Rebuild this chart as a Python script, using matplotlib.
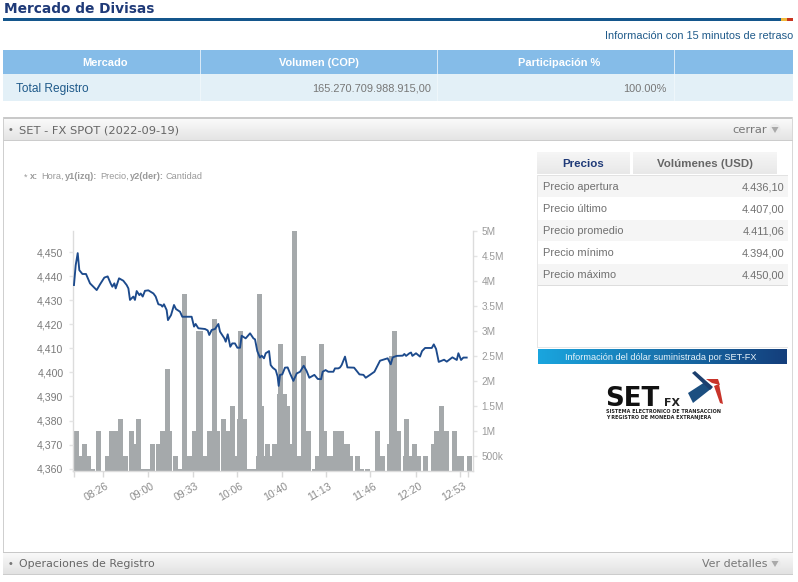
import matplotlib
matplotlib.use("Agg")
import matplotlib.pyplot as plt
from matplotlib.patches import Rectangle, Polygon, Circle
from matplotlib.transforms import ScaledTranslation
from matplotlib.ticker import FuncFormatter
import numpy as np

# price line: minutes since midnight / price
price_minutes = [484.3, 485.6, 487.1, 488.3, 490.6, 493.3, 496.3, 498.8, 501.3, 503.8, 507.0, 509.5, 511.7, 513.0,
                 514.5, 515.5, 518.0, 521.2, 523.7, 525.0, 526.2, 528.7, 529.9, 531.2, 533.2, 534.2, 535.7, 537.4,
                 539.9, 543.7, 545.4, 547.4, 549.4, 550.4, 551.6, 553.6, 554.6, 556.9, 559.1, 560.6, 563.6, 565.3,
                 572.3, 574.1, 575.3, 577.3, 582.3, 584.3, 585.5, 587.3, 589.8, 592.3, 593.5, 596.8, 597.8, 599.3,
                 601.2, 602.7, 604.7, 606.5, 608.5, 609.7, 612.7, 616.0, 618.5, 619.7, 621.4, 623.4, 624.7, 626.4,
                 627.7, 630.2, 631.4, 632.9, 635.2, 636.6, 637.4, 638.4, 640.1, 642.1, 644.1, 645.9, 648.4, 650.9,
                 653.4, 656.1, 658.3, 660.3, 664.1, 666.6, 669.1, 670.3, 672.5, 674.5, 678.3, 679.5, 682.0, 683.3,
                 684.5, 687.0, 688.8, 693.8, 697.8, 700.8, 702.5, 705.7, 709.0, 713.2, 718.9, 721.2, 722.7, 725.7,
                 730.2, 731.4, 732.7, 735.2, 736.4, 737.4, 740.1, 743.1, 744.6, 746.9, 751.9, 753.4, 755.1, 757.1,
                 759.3, 761.1, 763.1, 767.3, 770.6, 771.8, 773.8, 775.5, 778.0]
prices = [4436.4, 4444.7, 4449.7, 4442.6, 4441.0, 4441.0, 4437.1, 4435.7, 4434.3, 4436.7, 4439.5, 4440.0, 4437.1, 4435.7,
          4437.1, 4435.0, 4439.2, 4438.2, 4436.4, 4435.0, 4430.2, 4431.6, 4430.2, 4433.9, 4432.2, 4432.9, 4431.6, 4434.0,
          4434.2, 4432.9, 4431.6, 4428.4, 4428.1, 4427.4, 4428.4, 4426.0, 4421.8, 4423.9, 4428.1, 4426.4, 4425.3, 4423.2,
          4423.2, 4419.1, 4420.2, 4418.4, 4418.1, 4417.5, 4415.6, 4417.7, 4418.1, 4420.2, 4417.0, 4414.2, 4412.8, 4415.9,
          4410.7, 4412.1, 4412.1, 4410.3, 4410.3, 4415.3, 4414.2, 4416.3, 4414.2, 4413.8, 4408.9, 4406.2, 4407.0, 4405.9,
          4408.0, 4408.9, 4403.1, 4402.0, 4401.0, 4398.3, 4394.4, 4399.0, 4399.2, 4402.0, 4402.1, 4399.6, 4396.5, 4399.6,
          4400.3, 4402.8, 4400.6, 4397.8, 4399.0, 4397.3, 4397.2, 4400.3, 4401.0, 4400.3, 4400.3, 4401.7, 4401.7, 4402.1,
          4403.1, 4406.6, 4402.1, 4402.0, 4399.2, 4399.0, 4397.8, 4399.0, 4400.3, 4404.9, 4405.9, 4403.4, 4406.3, 4406.9,
          4407.0, 4407.7, 4406.9, 4408.0, 4408.3, 4406.9, 4408.0, 4406.6, 4408.9, 4410.2, 4410.2, 4411.7, 4409.8, 4404.4,
          4404.9, 4405.3, 4404.5, 4406.3, 4405.2, 4408.0, 4405.2, 4406.2, 4406.2]

# volume bars: minutes since midnight / quantity in millions
bar_minutes = [486.2, 489.3, 492.3, 495.3, 498.3, 503.0, 509.3, 512.5, 515.7, 519.2, 523.0, 527.2, 528.7, 532.2,
               535.9, 539.2, 542.9, 547.4, 550.4, 554.1, 556.1, 559.9, 563.6, 567.1, 570.6, 574.6, 577.2, 579.1,
               582.5, 586.0, 589.2, 591.5, 596.0, 599.5, 603.2, 604.7, 608.1, 609.1, 612.1, 615.8, 618.7, 622.3,
               623.1, 624.3, 625.3, 629.0, 631.7, 634.3, 638.0, 639.1, 641.6, 644.0, 646.6, 649.1, 652.6, 656.2,
               660.0, 664.1, 666.4, 669.1, 671.3, 675.7, 676.8, 680.1, 682.0, 684.1, 687.9, 688.9, 691.4, 696.0,
               699.6, 703.9, 711.5, 715.0, 720.2, 722.1, 723.9, 727.1, 732.3, 733.0, 736.1, 739.3, 742.0, 747.1,
               753.2, 755.5, 759.2, 763.0, 769.2, 772.9, 774.3, 780.2]
bar_volumes = [1.0, 0.5, 0.75, 0.5, 0.25, 1.0, 0.5, 1.0, 1.0, 1.25, 0.5, 1.0, 0.75, 1.25,
               0.25, 0.25, 0.75, 0.75, 1.0, 2.25, 1.0, 0.5, 0.25, 3.75, 0.5, 1.0, 3.0, 3.0,
               0.5, 1.0, 3.25, 1.0, 1.25, 1.0, 1.5, 0.5, 1.25, 3.0, 1.25, 0.25, 0.25, 0.5,
               3.75, 1.5, 0.5, 0.75, 0.5, 0.75, 1.75, 2.75, 1.75, 1.5, 0.75, 5.0, 0.5, 2.5,
               1.0, 0.25, 0.5, 2.75, 1.0, 0.5, 0.5, 1.0, 1.0, 1.0, 0.75, 0.75, 0.5, 0.5,
               0.25, 0.25, 1.0, 0.5, 0.75, 2.5, 3.0, 1.0, 0.5, 1.25, 0.5, 0.75, 0.5, 0.5,
               0.75, 1.0, 1.5, 1.0, 1.0, 0.5, 0.5, 0.5]

x_tick_minutes = [506, 540, 573, 606, 640, 673, 706, 740, 773]
x_tick_labels = ["08:26", "09:00", "09:33", "10:06", "10:40", "11:13", "11:46", "12:20", "12:53"]
x_end_ticks = [484.3, 778.8]
price_ticks = [4360, 4370, 4380, 4390, 4400, 4410, 4420, 4430, 4440, 4450]
volume_ticks = [0.5, 1, 1.5, 2, 2.5, 3, 3.5, 4, 4.5, 5]
volume_labels = ["500k", "1M", "1.5M", "2M", "2.5M", "3M", "3.5M", "4M", "4.5M", "5M"]

table_headers = ["Mercado", "Volumen (COP)", "Participación %"]
stat_names = ["Precio apertura", "Precio último", "Precio promedio", "Precio mínimo", "Precio máximo"]
stat_values = ["4.436,10", "4.407,00", "4.411,06", "4.394,00", "4.450,00"]

W, H = 798, 582
SANS = "Liberation Sans"
WIDE = "DejaVu Sans"


def pt(px):
    return px * 0.72


fig = plt.figure(figsize=(W / 100, H / 100), dpi=100)
page = fig.add_axes([0, 0, 1, 1])
page.set_xlim(0, W)
page.set_ylim(H, 0)
page.axis("off")


def box(x0, y0, x1, y1, color, z=1):
    page.add_patch(Rectangle((x0, y0), x1 - x0, y1 - y0, fc=color, ec="none", zorder=z))


def grad(x0, y0, x1, y1, c0, c1, horizontal=False):
    a = np.array(matplotlib.colors.to_rgb(c0))
    b = np.array(matplotlib.colors.to_rgb(c1))
    t = np.linspace(0, 1, 64)[:, None]
    img = a + (b - a) * t
    img = img[None, :, :] if horizontal else img[:, None, :]
    page.imshow(img, extent=(x0, x1, y1, y0), aspect="auto", zorder=2, interpolation="bilinear")


# y is the middle of the capitals, so mixed pieces of a line share one baseline
def label(x, y, s, size, color, ha="left", weight="normal", family=SANS):
    page.text(x, y + size * 0.36, s, fontsize=pt(size), color=color, ha=ha, va="baseline", weight=weight,
              family=family, zorder=5)


def arrow_icon(x, y):
    page.add_patch(Circle((x, y), 5.5, fc="#e9e9e9", ec="none", zorder=4))
    page.add_patch(Polygon([(x - 3.5, y - 2.5), (x + 3.5, y - 2.5), (x, y + 3.5)], fc="#a9a9a9", ec="none", zorder=5))


# page heading
label(4, 8.5, "Mercado de Divisas", 13.8, "#1f3a78", weight="bold", family=WIDE)
box(3, 18, 793, 20.5, "#14568c")
box(781, 18, 787, 20.5, "#f0b93a", z=2)
box(787, 18, 793, 20.5, "#c8341f", z=2)
label(793, 35, "Información con 15 minutos de retraso", 11, "#1f5a8a", ha="right")

# market table
box(3, 50, 793, 74, "#85bce8")
box(3, 74, 793, 100.5, "#e3f0f7")
for x in [200, 437, 674]:
    box(x, 50, x + 1, 74, "#d8e9f7", z=2)
    box(x, 74, x + 1, 100.5, "#eef6fa", z=2)
for x, s in zip([105, 319, 559], table_headers):
    label(x, 62, s, 11, "white", ha="center", weight="bold")
label(16, 88, "Total Registro", 11.9, "#1f5a8a")
label(431, 88, "165.270.709.988.915,00", 11, "#777777", ha="right")
label(667, 88, "100.00%", 11, "#777777", ha="right")

# panel frame and headers
box(3, 116.5, 793, 118.5, "#c9c9c9", z=3)
box(3, 116.5, 4, 552, "#cfcfcf", z=3)
box(792, 116.5, 793, 552, "#d8d8d8", z=3)
grad(3, 118, 793, 140, "#fbfbfb", "#e4e4e4")
box(3, 140, 793, 141, "#cccccc", z=3)
label(9, 129, "•", 11, "#777777")
label(19, 129, "SET - FX SPOT (2022-09-19)", 11.5, "#666666", family=WIDE)
label(767, 129, "cerrar", 11.5, "#777777", ha="right", family=WIDE)
arrow_icon(775, 129.5)

grad(3, 552, 793, 574, "#fafafa", "#e2e2e2")
box(3, 551.5, 793, 552.5, "#c8c8c8", z=3)
box(3, 574, 793, 575, "#cccccc", z=3)
label(9, 563, "•", 11, "#777777")
label(19, 563, "Operaciones de Registro", 11, "#666666", family=WIDE)
label(767, 563, "Ver detalles", 11, "#777777", ha="right", family=WIDE)
arrow_icon(775, 563.5)

# axis legend note with bold pieces
for x, s, w in [(24, "*", "normal"), (30, "x:", "bold"), (41, "Hora,", "normal"), (65, "y1(izq):", "bold"),
                (100, "Precio,", "normal"), (130, "y2(der):", "bold"), (165, "Cantidad", "normal")]:
    label(x, 176, s, 9.2, "#999999", weight=w)

# tabs and stats table
grad(537, 152, 630, 174, "#f6f6f6", "#e8e8e8")
grad(633, 152, 777, 174, "#f6f6f6", "#e8e8e8")
label(583, 162.5, "Precios", 11.5, "#1f3a78", ha="center", weight="bold")
label(705, 162.5, "Volúmenes (USD)", 11.5, "#666666", ha="center", weight="bold")
box(537, 175, 788, 176, "#e2e2e2")
for i, (name, val) in enumerate(zip(stat_names, stat_values)):
    y0 = 175 + 22 * i
    if i % 2 == 0:
        box(538, y0 + 1, 788, y0 + 22, "#f5f5f5")
    label(543, y0 + 11.5, name, 11, "#707070")
    label(784.5, y0 + 11.5, val, 11, "#707070", ha="right")
box(537, 285, 788, 286, "#dddddd", z=2)
box(537, 175, 538, 347, "#e6e6e6", z=2)
box(537, 346.5, 788, 347.5, "#e6e6e6", z=2)

# banner
grad(538, 349, 787, 364, "#1aa5de", "#143f7c", horizontal=True)
label(661, 356.5, "Información del dólar suministrada por SET-FX", 9.1, "#e8f4fb", ha="center")

# logo
page.text(605, 406, "SET", fontsize=pt(26), color="#111111", weight="bold", family=WIDE, va="baseline", zorder=5)
page.text(664, 406, "FX", fontsize=pt(11), color="#222222", weight="bold", family=WIDE, va="baseline", zorder=5)
label(606, 411.5, "SISTEMA ELECTRONICO DE TRANSACCION", 4.9, "#222222", weight="bold", family=WIDE)
label(606, 417.5, "Y REGISTRO DE MONEDA EXTRANJERA", 4.9, "#222222", weight="bold", family=WIDE)
page.add_patch(Polygon([(688, 393), (705, 382), (712, 388), (693, 403)], fc="#1c4f80", ec="none", zorder=4))
page.add_patch(Polygon([(692, 373), (695, 371), (713, 387), (710, 390)], fc="#1c3f6e", ec="none", zorder=5))
page.add_patch(Polygon([(706, 379), (718, 379), (720, 385), (712, 383)], fc="#c8342a", ec="none", zorder=5))
page.add_patch(Polygon([(714, 386), (719, 384), (723, 404), (720, 403)], fc="#c8342a", ec="none", zorder=4))

# chart: bars on the right axis, price line on the left axis
left, right, top, bottom = 72.5, 472.7, 231, 470.7
ax_vol = fig.add_axes([left / W, 1 - bottom / H, (right - left) / W, (bottom - top) / H])
ax_vol.patch.set_alpha(0)
ax_vol.bar(bar_minutes, bar_volumes, width=3.74, color="#a5a9ab", linewidth=0)
ax_vol.set_xlim(483.2, 782.5)
ax_vol.set_ylim(0.206, 5.0)

ax_price = ax_vol.twinx()
ax_price.plot(price_minutes, prices, color="#1c4a8c", linewidth=1.35, solid_joinstyle="round")
ax_price.set_ylim(4359.1, 4458.9)
ax_price.yaxis.tick_left()
ax_price.set_yticks(price_ticks)
ax_price.yaxis.set_major_formatter(FuncFormatter(lambda v, _: f"{v:,.0f}"))
ax_price.tick_params(axis="y", length=3, width=1, color="#e4e4e4", labelsize=pt(10.5), labelcolor="#7a7a7a", pad=3.5)
for t in ax_price.get_yticklabels():
    t.set_family(SANS)
for side in ax_price.spines:
    ax_price.spines[side].set_visible(False)

ax_vol.yaxis.tick_right()
ax_vol.set_yticks(volume_ticks)
ax_vol.set_yticklabels(volume_labels, fontsize=pt(10), color="#9a9a9a", family=SANS)
ax_vol.tick_params(axis="y", length=3, width=1, color="#e4e4e4", pad=3.5)

ax_vol.set_xticks(x_tick_minutes)
ax_vol.set_xticklabels(x_tick_labels, fontsize=pt(10.5), color="#8a8a8a", family=SANS, rotation=30,
                       ha="center", rotation_mode="default")
ax_vol.set_xticks(x_end_ticks, minor=True)
ax_vol.tick_params(axis="x", which="both", length=4.3, width=1, color="#d9d9d9", pad=3)
shift = ScaledTranslation(-6 / 100, 0, fig.dpi_scale_trans)
for t in ax_vol.get_xticklabels():
    t.set_transform(t.get_transform() + shift)

ax_vol.spines["top"].set_visible(False)
for side in ["left", "right", "bottom"]:
    ax_vol.spines[side].set_color("#dcdcdc")
    ax_vol.spines[side].set_linewidth(1)

fig.savefig("out.png", dpi=100)
